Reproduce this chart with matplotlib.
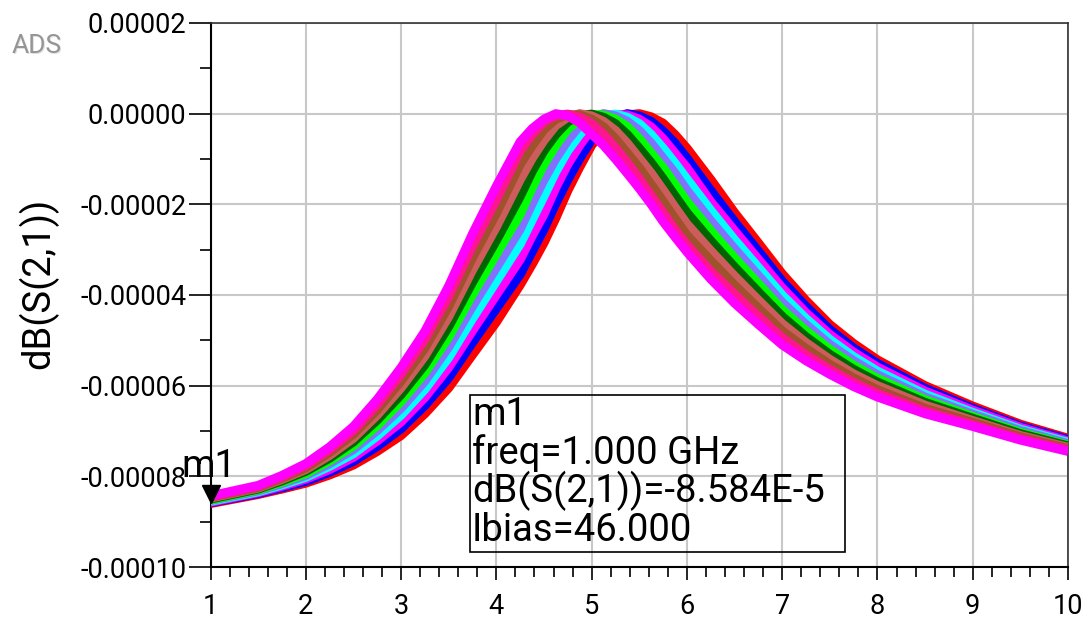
import numpy as np
import matplotlib
matplotlib.use("Agg")
import matplotlib.pyplot as plt
from matplotlib.patches import Rectangle
from matplotlib.transforms import offset_copy

plt.rcParams["font.family"] = ["Roboto", "DejaVu Sans"]

# frequency sweep (GHz)
freq = [1, 1.5, 1.75, 2, 2.25, 2.5, 2.75, 3, 3.25, 3.5,
        3.75, 4, 4.25, 4.375, 4.5, 4.625, 4.75, 4.875, 5, 5.125,
        5.25, 5.375, 5.5, 5.625, 5.75, 5.875, 6, 6.25, 6.5, 6.75,
        7, 7.25, 7.5, 7.75, 8, 8.5, 9, 9.5, 10]

# dB(S(2,1)) for each Ibias step, in units of 1e-5 dB
s21_red = [-8.60, -8.40, -8.28, -8.15, -7.97, -7.75, -7.45, -7.10, -6.62, -6.05,
           -5.32, -4.60, -3.78, -3.33, -2.85, -2.30, -1.70, -1.18, -0.70, -0.38,
           -0.16, -0.03, 0.00, -0.07, -0.21, -0.46, -0.76, -1.45, -2.18, -2.85,
           -3.53, -4.12, -4.65, -5.07, -5.43, -6.00, -6.45, -6.85, -7.16]
s21_blue = [-8.58, -8.38, -8.25, -8.11, -7.91, -7.67, -7.34, -6.95, -6.44, -5.83,
            -5.05, -4.30, -3.55, -3.05, -2.55, -1.98, -1.46, -0.99, -0.58, -0.26,
            -0.08, 0.00, -0.05, -0.17, -0.38, -0.65, -0.98, -1.69, -2.38, -3.03,
            -3.69, -4.25, -4.76, -5.17, -5.51, -6.06, -6.50, -6.89, -7.19]
s21_magenta = [-8.57, -8.36, -8.22, -8.06, -7.85, -7.58, -7.22, -6.80, -6.26, -5.60,
               -4.79, -4.00, -3.22, -2.70, -2.22, -1.63, -1.12, -0.70, -0.34, -0.12,
               -0.02, -0.03, -0.12, -0.29, -0.55, -0.87, -1.19, -1.94, -2.58, -3.21,
               -3.84, -4.39, -4.87, -5.26, -5.59, -6.12, -6.54, -6.92, -7.22]
s21_cyan = [-8.55, -8.34, -8.19, -8.02, -7.78, -7.50, -7.11, -6.65, -6.08, -5.38,
            -4.52, -3.70, -2.88, -2.35, -1.82, -1.28, -0.82, -0.46, -0.18, -0.04,
            -0.01, -0.08, -0.22, -0.46, -0.76, -1.09, -1.44, -2.13, -2.78, -3.39,
            -4.00, -4.52, -4.98, -5.36, -5.68, -6.19, -6.59, -6.96, -7.25]
s21_slate = [-8.53, -8.32, -8.16, -7.98, -7.72, -7.41, -6.99, -6.50, -5.90, -5.15,
             -4.25, -3.40, -2.55, -1.99, -1.46, -0.99, -0.59, -0.26, -0.08, 0.00,
             -0.05, -0.17, -0.37, -0.65, -0.98, -1.31, -1.69, -2.36, -2.98, -3.57,
             -4.16, -4.65, -5.09, -5.45, -5.76, -6.25, -6.63, -6.99, -7.28]
s21_lime = [-8.52, -8.30, -8.13, -7.94, -7.66, -7.33, -6.88, -6.35, -5.72, -4.93,
            -3.99, -3.10, -2.22, -1.64, -1.12, -0.70, -0.34, -0.12, -0.02, -0.03,
            -0.12, -0.29, -0.55, -0.87, -1.19, -1.56, -1.94, -2.58, -3.18, -3.75,
            -4.32, -4.79, -5.20, -5.55, -5.84, -6.31, -6.68, -7.03, -7.31]
s21_darkgreen = [-8.50, -8.28, -8.10, -7.89, -7.60, -7.24, -6.76, -6.20, -5.54, -4.70,
                 -3.72, -2.80, -1.83, -1.28, -0.82, -0.46, -0.18, -0.04, -0.01, -0.08,
                 -0.22, -0.46, -0.76, -1.08, -1.43, -1.81, -2.18, -2.80, -3.38, -3.93,
                 -4.47, -4.92, -5.31, -5.64, -5.92, -6.37, -6.72, -7.06, -7.33]
s21_indianred = [-8.48, -8.26, -8.07, -7.85, -7.54, -7.16, -6.65, -6.05, -5.35, -4.48,
                 -3.45, -2.50, -1.46, -0.99, -0.59, -0.26, -0.08, 0.00, -0.05, -0.17,
                 -0.37, -0.65, -0.98, -1.31, -1.68, -2.06, -2.43, -3.02, -3.58, -4.11,
                 -4.63, -5.05, -5.42, -5.74, -6.00, -6.43, -6.77, -7.10, -7.36]
s21_sienna = [-8.46, -8.24, -8.04, -7.81, -7.47, -7.07, -6.53, -5.90, -5.17, -4.25,
              -3.18, -2.20, -1.12, -0.71, -0.35, -0.12, -0.02, -0.03, -0.12, -0.29,
              -0.55, -0.87, -1.19, -1.56, -1.93, -2.31, -2.68, -3.24, -3.78, -4.29,
              -4.79, -5.18, -5.53, -5.83, -6.09, -6.50, -6.81, -7.13, -7.39]
s21_deeppink = [-8.45, -8.22, -8.01, -7.76, -7.41, -6.99, -6.42, -5.75, -4.98, -4.03,
                -2.92, -1.90, -0.82, -0.46, -0.18, -0.04, -0.01, -0.08, -0.22, -0.46,
                -0.75, -1.08, -1.43, -1.81, -2.18, -2.56, -2.89, -3.48, -3.98, -4.47,
                -4.94, -5.32, -5.64, -5.93, -6.17, -6.56, -6.86, -7.17, -7.42]
s21_magenta2 = [-8.43, -8.20, -7.98, -7.72, -7.35, -6.90, -6.30, -5.60, -4.80, -3.80,
                -2.65, -1.60, -0.62, -0.33, -0.12, 0.00, -0.05, -0.20, -0.45, -0.70,
                -1.00, -1.32, -1.65, -2.00, -2.38, -2.72, -3.05, -3.65, -4.18, -4.65,
                -5.10, -5.45, -5.75, -6.02, -6.25, -6.62, -6.90, -7.20, -7.45]

x_ticks = [1, 2, 3, 4, 5, 6, 7, 8, 9, 10]
y_ticks = [2e-5, 0, -2e-5, -4e-5, -6e-5, -8e-5, -1e-4]
y_tick_labels = ["0.00002", "0.00000", "-0.00002", "-0.00004", "-0.00006", "-0.00008", "-0.00010"]

m1_freq = 1.0
m1_value = -8.584e-5
m1_lines = ["m1", "freq=1.000 GHz", "dB(S(2,1))=-8.584E-5", "Ibias=46.000"]

traces = [
    (s21_red, "#FF0000"),
    (s21_blue, "#0000FF"),
    (s21_magenta, "#FF00FF"),
    (s21_cyan, "#00FFFF"),
    (s21_slate, "#8470FF"),
    (s21_lime, "#00FF00"),
    (s21_darkgreen, "#006400"),
    (s21_indianred, "#CD5C5C"),
    (s21_sienna, "#A0522D"),
    (s21_deeppink, "#FF1493"),
    (s21_magenta2, "#FF00FF"),
]

W, H = 1088, 621


def fx(px):
    return px / W


def fy(py):
    return 1 - py / H


fig = plt.figure(figsize=(W / 100, H / 100), dpi=100)
ax = fig.add_axes([fx(210.5), fy(567), (1068 - 210.5) / W, (567 - 23) / H])

for vals, color in traces:
    ax.plot(freq, np.array(vals) * 1e-5, color=color, lw=6.5,
            solid_joinstyle="round", solid_capstyle="butt", zorder=3)

ax.set_xlim(1, 10)
ax.set_ylim(-1e-4, 2e-5)
ax.set_xticks(x_ticks)
ax.set_xticklabels([str(t) for t in x_ticks])
ax.set_xticks(np.arange(1, 10.001, 0.2), minor=True)
ax.set_yticks(y_ticks)
ax.set_yticklabels(y_tick_labels)
ax.set_yticks(np.arange(-1e-4, 2.01e-5, 1e-5), minor=True)

ax.grid(True, which="major", color="#c8c8c8", lw=1.5)
ax.set_axisbelow(True)

ax.tick_params(axis="y", which="major", length=15.5, width=1.2, pad=2, labelsize=19.5)
ax.tick_params(axis="y", which="minor", length=8, width=1.2)
ax.tick_params(axis="x", which="major", length=9, width=1.2, pad=10, labelsize=19.5)
ax.tick_params(axis="x", which="minor", length=7.5, width=1.2)

for side in ["left", "bottom"]:
    ax.spines[side].set_linewidth(1.5)
    ax.spines[side].set_color("black")
for side in ["top", "right"]:
    ax.spines[side].set_linewidth(1.2)
    ax.spines[side].set_color("#333333")

# marker m1: triangle tip sits on the data point
trans = offset_copy(ax.transData, fig=fig, x=0, y=6.5, units="points")
ax.plot([m1_freq], [m1_value], marker="v", ms=13, color="black",
        transform=trans, clip_on=False, zorder=6)
fig.text(fx(209), fy(477), "m1", ha="center", va="baseline", fontsize=27.5)

# marker readout box
fig.patches.append(Rectangle((fx(470), fy(552)), (845 - 470) / W, (552 - 395) / H,
                             transform=fig.transFigure, fill=False, ec="black", lw=1.2))
for line, base in zip(m1_lines, [425, 464, 502, 541]):
    fig.text(fx(472), fy(base), line, ha="left", va="baseline", fontsize=27.5)

fig.text(fx(38), fy(283), "dB(S(2,1))", rotation=90, ha="center", va="center", fontsize=27.5)

fig.text(fx(38), fy(47.5), "ADS", color="#e0e0e0", fontsize=19, ha="center", va="center")
fig.text(fx(36.5), fy(46), "ADS", color="#959595", fontsize=19, ha="center", va="center")

fig.savefig("out.png", dpi=100)
